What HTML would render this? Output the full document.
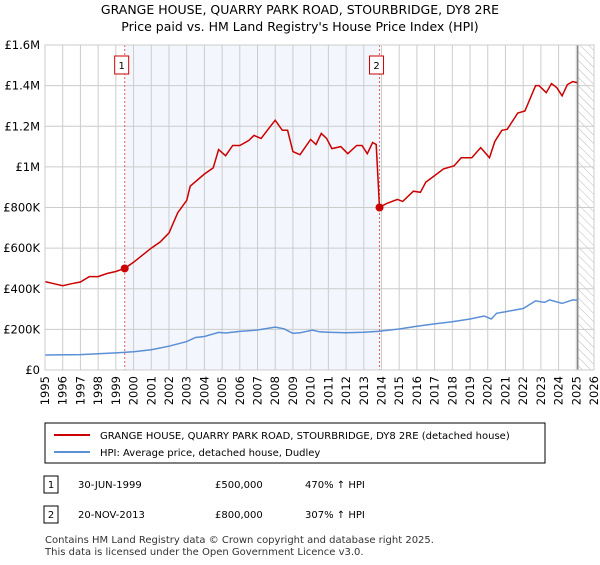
<!DOCTYPE html>
<html><head><meta charset="utf-8"><style>
body{margin:0;background:#fff;font-family:"Liberation Sans","DejaVu Sans",sans-serif;}
</style></head><body>
<svg width="600" height="560" xmlns="http://www.w3.org/2000/svg" font-family="DejaVu Sans, Liberation Sans, sans-serif">
<text x="300" y="14" text-anchor="middle" font-size="12.5">GRANGE HOUSE, QUARRY PARK ROAD, STOURBRIDGE, DY8 2RE</text>
<text x="300" y="31" text-anchor="middle" font-size="12.5">Price paid vs. HM Land Registry's House Price Index (HPI)</text>
<g id="plot"></g>
<g>
<rect x="45" y="423" width="500" height="40" fill="#fff" stroke="#000" stroke-width="1"/>
<line x1="54" y1="435" x2="90" y2="435" stroke="#cc0000" stroke-width="2"/>
<text x="100" y="439" font-size="10">GRANGE HOUSE, QUARRY PARK ROAD, STOURBRIDGE, DY8 2RE (detached house)</text>
<line x1="54" y1="452" x2="90" y2="452" stroke="#5b8fd6" stroke-width="2"/>
<text x="100" y="456" font-size="10">HPI: Average price, detached house, Dudley</text>
</g>
<g font-size="10">
<rect x="44" y="476" width="14" height="17" fill="#fff" stroke="#000"/><text x="51" y="488" text-anchor="middle">1</text>
<text x="78" y="488">30-JUN-1999</text><text x="215" y="488">£500,000</text><text x="305" y="488">470% ↑ HPI</text>
<rect x="44" y="506" width="14" height="17" fill="#fff" stroke="#000"/><text x="51" y="518" text-anchor="middle">2</text>
<text x="78" y="518">20-NOV-2013</text><text x="215" y="518">£800,000</text><text x="305" y="518">307% ↑ HPI</text>
</g>
<text x="45" y="543" font-size="10" fill="#333">Contains HM Land Registry data © Crown copyright and database right 2025.</text>
<text x="45" y="555" font-size="10" fill="#333">This data is licensed under the Open Government Licence v3.0.</text>
</svg>
<script>
const redYears=[1995,1995.5,1996,1996.5,1997,1997.5,1998,1998.5,1999,1999.5,2000,2000.5,2001,2001.5,2002,2002.5,2003,2003.2,2004,2004.5,2004.8,2005.2,2005.6,2006,2006.5,2006.8,2007.2,2007.6,2008,2008.4,2008.7,2009,2009.4,2010,2010.3,2010.6,2010.9,2011.2,2011.7,2012.1,2012.6,2012.9,2013.2,2013.5,2013.7,2013.89,2014.3,2014.9,2015.2,2015.8,2016.2,2016.5,2016.9,2017.5,2018.1,2018.5,2019.1,2019.6,2020.1,2020.4,2020.8,2021.1,2021.7,2022.1,2022.7,2022.9,2023.3,2023.6,2023.9,2024.2,2024.5,2024.8,2025.05];
const redValues=[435,425,415,425,433,460,460,475,485,500,530,565,600,630,675,775,835,905,965,995,1085,1055,1105,1105,1130,1155,1140,1185,1230,1180,1180,1075,1060,1135,1110,1165,1140,1090,1100,1065,1105,1105,1065,1120,1110,800,820,840,830,880,875,925,950,990,1005,1045,1045,1095,1045,1125,1180,1185,1265,1275,1400,1400,1365,1410,1390,1350,1405,1420,1415];
const hpiYears=[1995,1997,1998,1999,2000,2001,2002,2003,2003.5,2004,2004.8,2005.2,2006,2007,2008,2008.5,2009,2009.4,2010.1,2010.5,2011,2012,2013,2013.9,2015,2016,2017,2018,2019,2019.8,2020.2,2020.5,2021,2022,2022.7,2023.2,2023.5,2024.2,2024.8,2025.05];
const hpiValues=[74,76,80,84,90,100,117,140,160,165,185,182,190,197,211,203,180,183,196,188,186,183,186,191,202,215,227,238,251,266,251,279,287,303,340,333,345,328,345,343];
const sales=[{n:"1",year:1999.5,value:500},{n:"2",year:2013.89,value:800}];
const yTicks=[0,200,400,600,800,1000,1200,1400,1600];
const yLabels=["£0","£200K","£400K","£600K","£800K","£1M","£1.2M","£1.4M","£1.6M"];
const xTicks=[1995,1996,1997,1998,1999,2000,2001,2002,2003,2004,2005,2006,2007,2008,2009,2010,2011,2012,2013,2014,2015,2016,2017,2018,2019,2020,2021,2022,2023,2024,2025,2026];
const L=45,R=594,T=45,B=370,x0=1995,x1=2026,forecast=2025.08;
const X=y=>L+(y-x0)/(x1-x0)*(R-L);
const Y=v=>B-v/1600*(B-T);
const NS="http://www.w3.org/2000/svg";
const g=document.getElementById('plot');
function mk(t,a,p){const e=document.createElementNS(NS,t);for(const k in a)e.setAttribute(k,a[k]);(p||g).appendChild(e);return e;}
const defs=mk('defs',{});
const pat=mk('pattern',{id:'hatch',width:'6',height:'6',patternUnits:'userSpaceOnUse',patternTransform:'rotate(-45)'},defs);
mk('line',{x1:0,y1:0,x2:0,y2:6,stroke:'#bbb','stroke-width':1},pat);
let bg=mk('rect',{x:L,y:T,width:R-L,height:B-T,fill:'#fff'});

let sh=mk('rect',{x:X(sales[0].year),y:T,width:X(sales[1].year)-X(sales[0].year),height:B-T,fill:'#f3f6fd'});

let fc=mk('rect',{x:X(forecast),y:T,width:R-X(forecast),height:B-T,fill:'url(#hatch)'});

xTicks.forEach(t=>{let l=mk('line',{x1:X(t),y1:T,x2:X(t),y2:B,stroke:'#ccc','stroke-width':1});

let tx=mk('text',{x:0,y:0,'font-size':'11.5','text-anchor':'end',transform:`translate(${X(t)+4},${B+6}) rotate(-90)`});tx.textContent=t;
});
yTicks.forEach((t,i)=>{let l=mk('line',{x1:L,y1:Y(t),x2:R,y2:Y(t),stroke:'#ccc','stroke-width':1});

let tx=mk('text',{x:L-5,y:Y(t)+4,'font-size':'11.5','text-anchor':'end'});tx.textContent=yLabels[i];
});
let fl=mk('line',{x1:X(forecast),y1:T,x2:X(forecast),y2:B,stroke:'#888','stroke-width':1.5});

sales.forEach(s=>{let l=mk('line',{x1:X(s.year),y1:T,x2:X(s.year),y2:B,stroke:'#e06060','stroke-width':1,'stroke-dasharray':'2,2'});

let r=mk('rect',{x:X(s.year)-10,y:56,width:14,height:18,fill:'#fff',stroke:'#cc0000'});

let t=mk('text',{x:X(s.year)-3,y:69,'font-size':'10','text-anchor':'middle'});t.textContent=s.n;
});
const path=(xs,vs)=>xs.map((y,i)=>(i?'L':'M')+X(y).toFixed(1)+','+Y(vs[i]).toFixed(1)).join('');
let hp=mk('path',{d:path(hpiYears,hpiValues),fill:'none',stroke:'#5b8fd6','stroke-width':1.5});

let rp=mk('path',{d:path(redYears,redValues),fill:'none',stroke:'#cc0000','stroke-width':1.5});

sales.forEach(s=>{let c=mk('circle',{cx:X(s.year),cy:Y(s.value),r:4,fill:'#cc0000'});
});
let fr=mk('rect',{x:L,y:T,width:R-L,height:B-T,fill:'none',stroke:'#ccc'});

</script>
</body></html>
